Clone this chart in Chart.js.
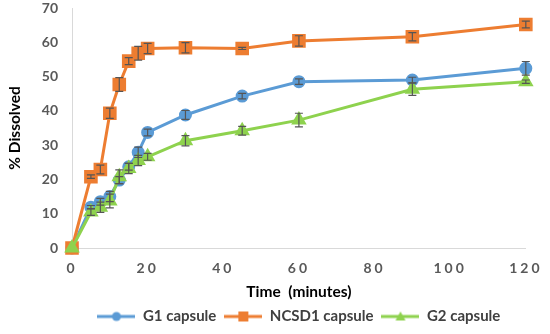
<!DOCTYPE html>
<html>
<head>
<meta charset="utf-8">
<script src="https://cdn.jsdelivr.net/npm/chart.js@4"></script>
<style>
  html, body { margin: 0; padding: 0; background: #fff; }
  #wrap { width: 550px; height: 334px; }
</style>
</head>
<body>
<div id="wrap"><canvas id="myChart" width="550" height="334"></canvas></div>
<script>
// data
const times = [0, 5, 7.5, 10, 12.5, 15, 17.5, 20, 30, 45, 60, 90, 120];
const g1Values = [0, 11.9, 13.5, 15.0, 19.8, 23.7, 27.9, 33.7, 38.8, 44.3, 48.5, 49.0, 52.4];
const ncsd1Values = [0, 20.8, 22.9, 39.3, 47.7, 54.5, 56.8, 58.2, 58.4, 58.2, 60.4, 61.6, 65.2];
const g2Values = [0, 10.5, 11.9, 13.7, 20.8, 23.2, 25.5, 26.6, 31.3, 34.2, 37.3, 46.3, 48.5];
const g1Err = [0, 0.5, 1.0, 1.5, 1.0, 1.0, 1.5, 1.0, 1.3, 0.8, 0.8, 0.8, 2.0];
const ncsd1Err = [0, 0.5, 1.3, 1.5, 2.0, 1.0, 2.0, 1.5, 1.5, 0.3, 1.5, 1.2, 1.0];
const g2Err = [0, 1.0, 1.5, 2.0, 2.0, 1.5, 1.5, 1.0, 1.5, 1.3, 2.0, 1.8, 0.5];
const xTicks = [0, 20, 40, 60, 80, 100, 120];
const yTicks = [0, 10, 20, 30, 40, 50, 60, 70];

const blue = '#5b9bd5';
const orange = '#ed7d31';
const green = '#8ed24e';
const fontName = 'Lato, "Open Sans", sans-serif';

function toPoints(vals) {
    return times.map((t, i) => ({ x: t, y: vals[i] }));
}

// small picture for the legend: line with marker
function legendIcon(color, style) {
    const c = document.createElement('canvas');
    c.width = 38;
    c.height = 12;
    const g = c.getContext('2d');
    g.strokeStyle = color;
    g.lineWidth = 3;
    g.beginPath();
    g.moveTo(0, 6);
    g.lineTo(38, 6);
    g.stroke();
    g.fillStyle = color;
    if (style === 'circle') {
        g.beginPath();
        g.arc(19, 6, 4.5, 0, Math.PI * 2);
        g.fill();
    } else if (style === 'rect') {
        g.fillRect(14, 1, 10, 10);
    } else {
        g.beginPath();
        g.moveTo(19, 1);
        g.lineTo(24, 10);
        g.lineTo(14, 10);
        g.closePath();
        g.fill();
    }
    return c;
}

// error bar plugin
const errorBars = {
    id: 'errorBars',
    beforeDraw(chart) {
        // spread out the x tick digits a bit like the original
        const s = chart.scales.x;
        if (!s._spaced) {
            const orig = s.drawLabels.bind(s);
            s.drawLabels = function (area) {
                chart.ctx.save();
                chart.ctx.letterSpacing = '3px';
                orig(area);
                chart.ctx.restore();
            };
            s._spaced = true;
        }
    },
    afterDatasetsDraw(chart) {
        const ctx = chart.ctx;
        const yScale = chart.scales.y;
        ctx.save();
        ctx.strokeStyle = '#555555';
        ctx.lineWidth = 1.2;
        chart.data.datasets.forEach((ds, di) => {
            const meta = chart.getDatasetMeta(di);
            ds.errors.forEach((e, i) => {
                if (!e) return;
                const px = meta.data[i].x;
                const yTop = yScale.getPixelForValue(ds.data[i].y + e);
                const yBot = yScale.getPixelForValue(ds.data[i].y - e);
                ctx.beginPath();
                ctx.moveTo(px, yTop);
                ctx.lineTo(px, yBot);
                ctx.moveTo(px - 4, yTop);
                ctx.lineTo(px + 4, yTop);
                ctx.moveTo(px - 4, yBot);
                ctx.lineTo(px + 4, yBot);
                ctx.stroke();
            });
        });
        ctx.restore();
    }
};

const ctx = document.getElementById('myChart').getContext('2d');
const myChart = new Chart(ctx, {
    type: 'line',
    data: {
        datasets: [{
            label: 'G1 capsule',
            data: toPoints(g1Values),
            errors: g1Err,
            borderColor: blue,
            backgroundColor: blue,
            borderWidth: 3,
            pointStyle: 'circle',
            pointRadius: 5,
            clip: false,
            order: 2,
            icon: legendIcon(blue, 'circle')
        }, {
            label: 'NCSD1 capsule',
            data: toPoints(ncsd1Values),
            errors: ncsd1Err,
            borderColor: orange,
            backgroundColor: orange,
            borderWidth: 3,
            pointStyle: 'rect',
            pointRadius: 7.5,
            clip: false,
            order: 1,
            icon: legendIcon(orange, 'rect')
        }, {
            label: 'G2 capsule',
            data: toPoints(g2Values),
            errors: g2Err,
            borderColor: green,
            backgroundColor: green,
            borderWidth: 3,
            pointStyle: 'triangle',
            pointRadius: 6,
            clip: false,
            order: 0,
            icon: legendIcon(green, 'triangle')
        }]
    },
    options: {
        responsive: false,
        animation: false,
        layout: { autoPadding: false, padding: { left: 0, top: 0, right: 22, bottom: 0 } },
        plugins: {
            tooltip: { enabled: false },
            legend: {
                position: 'bottom',
                fullSize: false,
                labels: {
                    usePointStyle: true,
                    pointStyleWidth: 38,
                    boxHeight: 12,
                    padding: 8,
                    color: '#404040',
                    font: { family: fontName, size: 15, weight: 'bold' },
                    sort: (a, b) => a.datasetIndex - b.datasetIndex,
                    generateLabels(chart) {
                        return chart.data.datasets.map((ds, i) => ({
                            text: ds.label,
                            datasetIndex: i,
                            pointStyle: ds.icon,
                            fillStyle: ds.borderColor,
                            strokeStyle: ds.borderColor,
                            lineWidth: 0,
                            fontColor: '#404040'
                        }));
                    }
                }
            }
        },
        scales: {
            x: {
                type: 'linear',
                min: 0,
                max: 120,
                afterBuildTicks(scale) {
                    scale.ticks = xTicks.map(v => ({ value: v }));
                },
                grid: { display: false, drawTicks: false },
                border: { display: true, color: '#d9d9d9', width: 1 },
                ticks: {
                    padding: 12,
                    color: '#595959',
                    font: { family: fontName, size: 14, weight: 'bold' }
                },
                title: {
                    display: true,
                    text: 'Time  (minutes)',
                    color: '#000000',
                    padding: { top: 4, bottom: 0 },
                    font: { family: fontName, size: 15.5, weight: 'bold' }
                },
                afterFit(scale) { scale.height = 53; }
            },
            y: {
                min: 0,
                max: 70,
                afterBuildTicks(scale) {
                    scale.ticks = yTicks.map(v => ({ value: v }));
                },
                grid: { display: false, drawTicks: false },
                border: { display: true, color: '#d9d9d9', width: 1 },
                ticks: {
                    padding: 14,
                    color: '#595959',
                    font: { family: fontName, size: 14, weight: 'bold' }
                },
                title: {
                    display: true,
                    text: '% Dissolved',
                    color: '#000000',
                    padding: { top: 6, bottom: 6 },
                    font: { family: fontName, size: 15.5, weight: 'bold' }
                },
                afterFit(scale) {
                    scale.width = 72;
                    scale.paddingTop = 8;
                }
            }
        }
    },
    plugins: [errorBars]
});
</script>
</body>
</html>
